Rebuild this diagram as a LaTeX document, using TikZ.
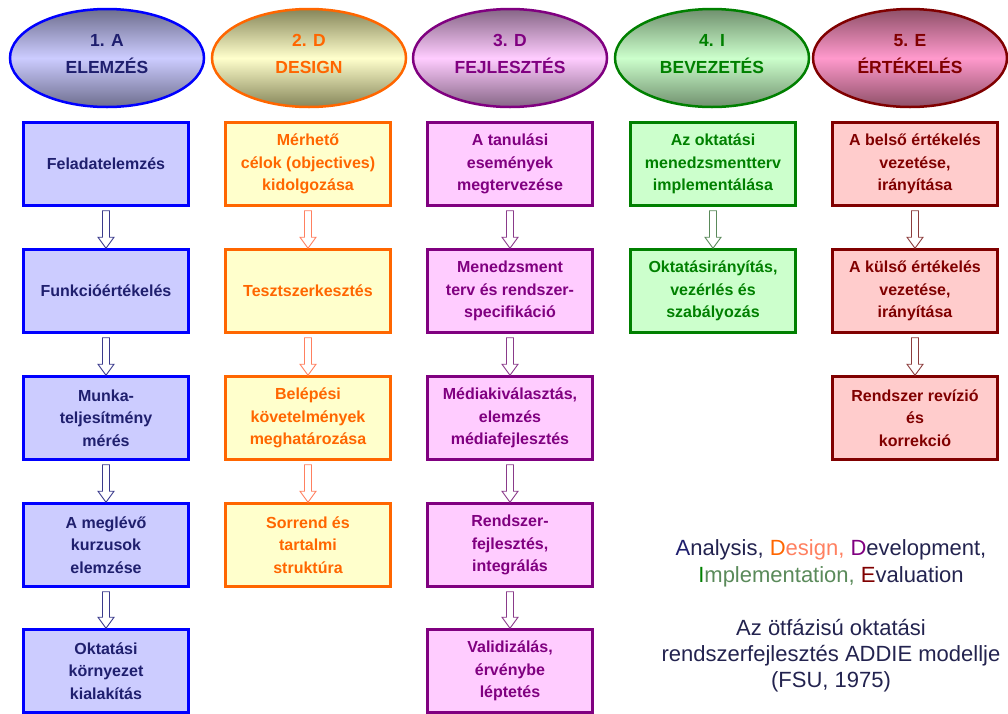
\documentclass[tikz,border=0pt]{standalone}
\usepackage{fontspec}
\setmainfont{Liberation Sans}
\usetikzlibrary{calc,shapes.geometric}

% szinek
\definecolor{anavy}{HTML}{1F1F6E}
\definecolor{ablue}{HTML}{0000FF}
\definecolor{afill}{HTML}{CCCCFF}
\definecolor{aarrow}{HTML}{3A3A8C}
\definecolor{adark}{HTML}{6E6E8E}
\definecolor{dorange}{HTML}{FF6600}
\definecolor{dfill}{HTML}{FFFFCC}
\definecolor{darrow}{HTML}{FF8060}
\definecolor{ddark}{HTML}{86865A}
\definecolor{fpurple}{HTML}{800080}
\definecolor{ffill}{HTML}{FFCCFF}
\definecolor{farrow}{HTML}{8A3A8A}
\definecolor{fdark}{HTML}{866686}
\definecolor{igreen}{HTML}{008000}
\definecolor{ifill}{HTML}{CCFFCC}
\definecolor{iarrow}{HTML}{5A8A5A}
\definecolor{idark}{HTML}{70906E}
\definecolor{ered}{HTML}{800000}
\definecolor{efill}{HTML}{FFCCCC}
\definecolor{epink}{HTML}{FF99CC}
\definecolor{earrow}{HTML}{8C3C3C}
\definecolor{edark}{HTML}{8E5068}
\definecolor{notetext}{HTML}{23234F}

\tikzset{
  phase/.style n args={4}{ellipse, draw=#1, line width=2.5pt,
    top color=#2, bottom color=#2, middle color=#3, text=#4,
    minimum width=194pt, minimum height=98pt, inner sep=0pt, align=center,
    text depth=9pt, font=\fontsize{17.5}{27}\selectfont\bfseries},
  stepbox/.style n args={3}{rectangle, draw=#1, fill=#2, text=#3,
    line width=2.5pt, minimum width=165pt, minimum height=83pt,
    inner sep=2pt, align=center, font=\fontsize{16}{22.5}\selectfont\bfseries},
  hollow/.style={draw=#1, line width=0.9pt, fill=white,
    to path={let \p1=(\tikztostart), \p2=(\tikztotarget) in
      (\x1-3.5pt,\y1-4pt) -- (\x1-3.5pt,\y2+11pt) -- (\x1-8pt,\y2+11pt)
      -- (\x1,\y2) -- (\x1+8pt,\y2+11pt) -- (\x1+3.5pt,\y2+11pt)
      -- (\x1+3.5pt,\y1-4pt) -- cycle}},
}

\begin{document}
\begin{tikzpicture}[x=1pt, y=-1pt]
    \useasboundingbox (0,0) rectangle (1008,713);

    % 1. Fazisok (ellipszisek)
    \node[phase={ablue}{adark}{afill}{anavy}]       (pa) at (107,58) {1. A\\ELEMZÉS};
    \node[phase={dorange}{ddark}{dfill}{dorange}]   (pd) at (309,58) {2. D\\DESIGN};
    \node[phase={fpurple}{fdark}{ffill}{fpurple}]   (pf) at (510,58) {3. D\\FEJLESZTÉS};
    \node[phase={igreen}{idark}{ifill}{igreen}]     (pi) at (712,58) {4. I\\BEVEZETÉS};
    \node[phase={ered}{edark}{epink}{ered}]         (pe) at (910,58) {5. E\\ÉRTÉKELÉS};

    % 2. Elemzes oszlop
    \node[stepbox={ablue}{afill}{anavy}] (a1) at (106,164) {Feladatelemzés};
    \node[stepbox={ablue}{afill}{anavy}] (a2) at (106,291) {Funkcióértékelés};
    \node[stepbox={ablue}{afill}{anavy}] (a3) at (106,418) {Munka-\\teljesítmény\\mérés};
    \node[stepbox={ablue}{afill}{anavy}] (a4) at (106,545) {A meglévő\\kurzusok\\elemzése};
    \node[stepbox={ablue}{afill}{anavy}] (a5) at (106,671) {Oktatási\\környezet\\kialakítás};

    % 3. Design oszlop
    \node[stepbox={dorange}{dfill}{dorange}] (d1) at (308,164) {Mérhető\\célok (objectives)\\kidolgozása};
    \node[stepbox={dorange}{dfill}{dorange}] (d2) at (308,291) {Tesztszerkesztés};
    \node[stepbox={dorange}{dfill}{dorange}] (d3) at (308,418) {Belépési\\követelmények\\meghatározása};
    \node[stepbox={dorange}{dfill}{dorange}] (d4) at (308,545) {Sorrend és\\tartalmi\\struktúra};

    % 4. Fejlesztes oszlop
    \node[stepbox={fpurple}{ffill}{fpurple}] (f1) at (510,164) {A tanulási\\események\\megtervezése};
    \node[stepbox={fpurple}{ffill}{fpurple}] (f2) at (510,291) {Menedzsment\\terv és rendszer-\\specifikáció};
    \node[stepbox={fpurple}{ffill}{fpurple}] (f3) at (510,418) {Médiakiválasztás,\\elemzés\\médiafejlesztés};
    \node[stepbox={fpurple}{ffill}{fpurple}] (f4) at (510,545) {Rendszer-\\fejlesztés,\\integrálás};
    \node[stepbox={fpurple}{ffill}{fpurple}] (f5) at (510,671) {Validizálás,\\érvénybe\\léptetés};

    % 5. Bevezetes oszlop
    \node[stepbox={igreen}{ifill}{igreen}] (i1) at (713,164) {Az oktatási\\menedzsmentterv\\implementálása};
    \node[stepbox={igreen}{ifill}{igreen}] (i2) at (713,291) {Oktatásirányítás,\\vezérlés és\\szabályozás};

    % 6. Ertekeles oszlop
    \node[stepbox={ered}{efill}{ered}] (e1) at (915,164) {A belső értékelés\\vezetése,\\irányítása};
    \node[stepbox={ered}{efill}{ered}] (e2) at (915,291) {A külső értékelés\\vezetése,\\irányítása};
    \node[stepbox={ered}{efill}{ered}] (e3) at (915,418) {Rendszer revízió\\és\\korrekció};

    % 7. Ureges nyilak
    \draw[hollow=aarrow] (a1.south) to (a2.north);
    \draw[hollow=aarrow] (a2.south) to (a3.north);
    \draw[hollow=aarrow] (a3.south) to (a4.north);
    \draw[hollow=aarrow] (a4.south) to (a5.north);
    \draw[hollow=darrow] (d1.south) to (d2.north);
    \draw[hollow=darrow] (d2.south) to (d3.north);
    \draw[hollow=darrow] (d3.south) to (d4.north);
    \draw[hollow=farrow] (f1.south) to (f2.north);
    \draw[hollow=farrow] (f2.south) to (f3.north);
    \draw[hollow=farrow] (f3.south) to (f4.north);
    \draw[hollow=farrow] (f4.south) to (f5.north);
    \draw[hollow=iarrow] (i1.south) to (i2.north);
    \draw[hollow=earrow] (e1.south) to (e2.north);
    \draw[hollow=earrow] (e2.south) to (e3.north);

    % 8. Megjegyzes jobbra lent
    \node[align=center, text=notetext, font=\fontsize{22}{27}\selectfont] (addie) at (831,563)
        {\textcolor{anavy}{A}nalysis, \textcolor{dorange}{D}\textcolor{darrow}{esign,}
         \textcolor{fpurple}{D}evelopment,\\
         \textcolor{igreen}{I}\textcolor{iarrow}{mplementation,} \textcolor{ered}{E}valuation};
    \node[align=center, text=notetext, font=\fontsize{22}{26}\selectfont] (title) at (831,656)
        {Az ötfázisú oktatási\\rendszerfejlesztés ADDIE modellje\\(FSU, 1975)};

\end{tikzpicture}
\end{document}
